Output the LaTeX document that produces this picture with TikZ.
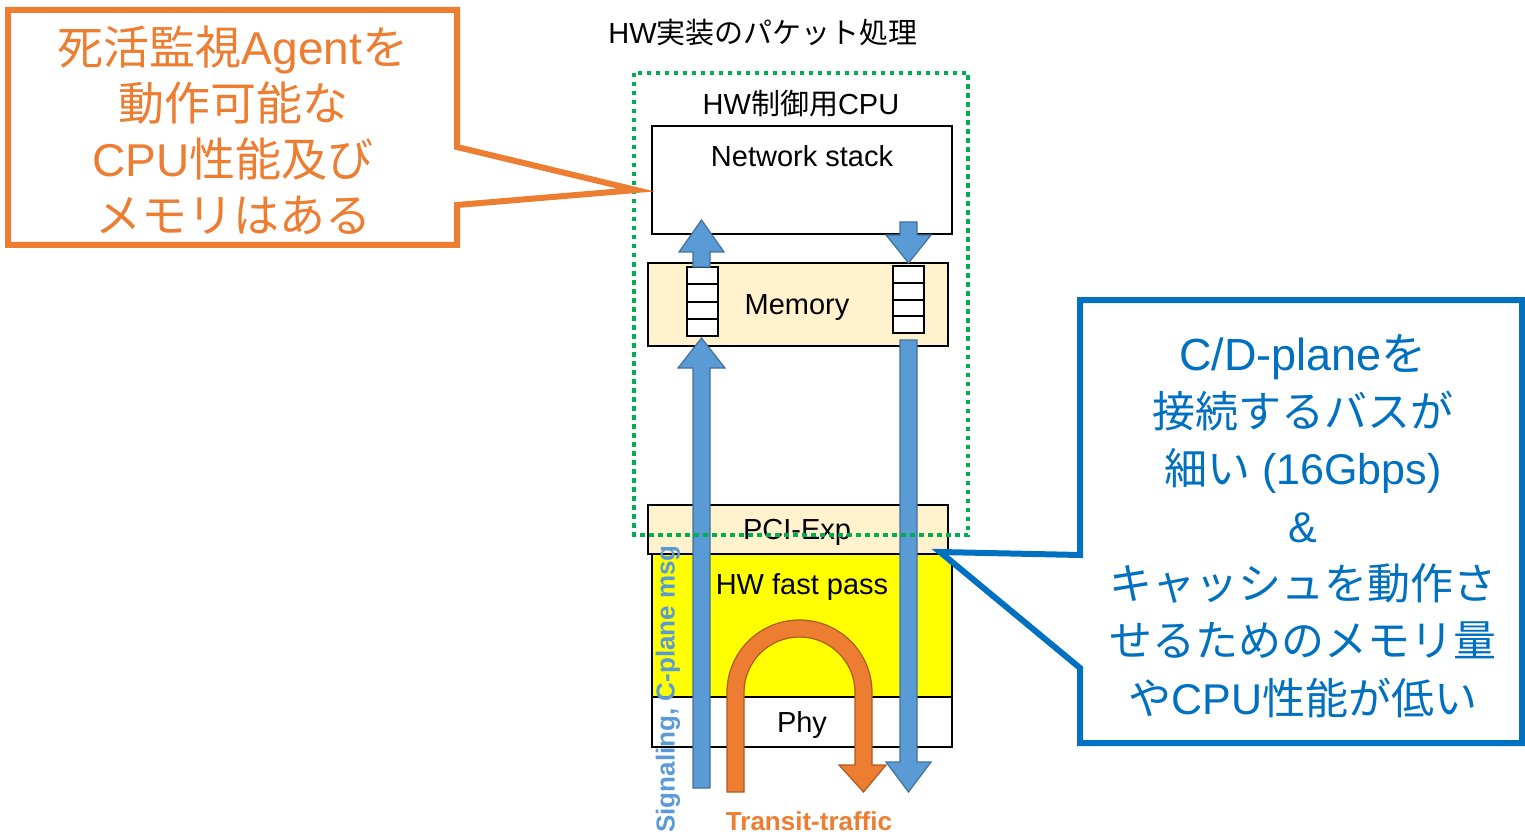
\documentclass[tikz,border=0pt]{standalone}
\usepackage{fontspec}
\setmainfont{Liberation Sans}
\newfontfamily\cjk{Noto Sans CJK JP}
\newcommand\jp[1]{{\cjk #1}}
\definecolor{memfill}{HTML}{FFF2CC}
\definecolor{fastfill}{HTML}{FFFF00}
\definecolor{arrblue}{HTML}{5B9BD5}
\definecolor{arrblueedge}{HTML}{41719C}
\definecolor{arrorange}{HTML}{ED7D31}
\definecolor{arrorangeedge}{HTML}{AE5A21}
\definecolor{calloutblue}{HTML}{0070C0}
\definecolor{dotgreen}{HTML}{00B050}
\tikzset{
  layerbox/.style={draw=black, line width=2pt},
  lbl/.style={inner sep=0pt, font=\fontsize{29}{34}\selectfont},
  bluearrow/.style={fill=arrblue, draw=arrblueedge, line width=1.2pt, line join=miter},
  orangearrow/.style={fill=arrorange, draw=arrorangeedge, line width=1.2pt},
  callout/.style={fill=white, line width=6pt, line join=miter},
}
\begin{document}
\begin{tikzpicture}[x=1pt, y=-1pt]
\useasboundingbox (0,0) rectangle (1525,834);

% title
\node[lbl] (title) at (763,33) {HW\jp{実装のパケット処理}};

% stack of layers
\node[lbl] (cpu) at (801,104) {HW\jp{制御用}CPU};
\draw[layerbox, fill=white] (652,126) rectangle (952,234);
\node[lbl] (netstack) at (802,156) {Network stack};
\draw[layerbox, fill=memfill] (648,263) rectangle (948,346);
\node[lbl] (memory) at (797,308) {Memory};
\draw[layerbox, fill=memfill] (648,505) rectangle (948,554);
\node[lbl] (pci) at (797,532) {PCI-Exp};
\draw[layerbox, fill=fastfill] (652,554) rectangle (952,697);
\node[lbl] (fastpass) at (802,587) {HW fast pass};
\draw[layerbox, fill=white] (652,697) rectangle (952,747);
\node[lbl] (phy) at (802,725) {Phy};

% receive / transmit queues in memory
\foreach \y in {267,284.25,301.5,318.75}
  \draw[layerbox, fill=white] (687,\y) rectangle (718,\y+17.25);
\foreach \y in {266,282.75,299.5,316.25}
  \draw[layerbox, fill=white] (893,\y) rectangle (924,\y+16.75);

% upward path: queue -> network stack
\draw[bluearrow] (693,267) -- (693,252) -- (679,252) -- (701.5,220) -- (724,252) -- (710,252) -- (710,267) -- cycle;
% upward path: wire -> queue
\draw[bluearrow] (693,788) -- (693,368) -- (678,368) -- (701.5,338) -- (725,368) -- (710,368) -- (710,788) -- cycle;
% downward path: network stack -> queue
\draw[bluearrow] (900,222) -- (900,235) -- (886,235) -- (908.5,263) -- (931,235) -- (917,235) -- (917,222) -- cycle;
% downward path: queue -> wire
\draw[bluearrow] (900,340) -- (900,762) -- (886,762) -- (908.5,792) -- (931,762) -- (917,762) -- (917,340) -- cycle;

% transit traffic U-turn
\draw[orangearrow] (727,792) -- (727,692.5) arc[start angle=180, end angle=360, radius=72.5]
  -- (872,765) -- (886,765) -- (863.5,792) -- (839,765) -- (855,765) -- (855,692.5)
  arc[start angle=360, end angle=180, radius=55.5] -- (744,792) -- cycle;

% flow labels
\node[inner sep=0pt, rotate=90, text=arrblue, font=\fontsize{26}{30}\selectfont\bfseries] (sig) at (668,689) {Signaling, C-plane msg};
\node[inner sep=0pt, text=arrorange, font=\fontsize{26}{30}\selectfont\bfseries] (transit) at (809,821) {Transit-traffic};

% CPU domain boundary
\draw[dotgreen, line width=4.5pt, dash pattern=on 4.5pt off 4.5pt] (634,73) rectangle (968,535);

% callouts
\draw[callout, draw=arrorange] (8,10) -- (457,10) -- (457,147) -- (636,190) -- (457,205) -- (457,245) -- (8,245) -- cycle;
\node[inner sep=0pt, align=center, text=arrorange, font=\fontsize{46}{56}\selectfont] (note1) at (233,130)
  {\jp{死活監視}Agent\jp{を}\\\jp{動作可能な}\\CPU\jp{性能及び}\\\jp{メモリはある}};

\draw[callout, draw=calloutblue] (1080,300) -- (1522,300) -- (1522,743) -- (1080,743) -- (1080,668) -- (940,552) -- (1080,555) -- cycle;
\node[inner sep=0pt, align=center, text=calloutblue, font=\fontsize{43}{57.3}\selectfont] (note2) at (1303,526)
  {\fontsize{45}{57.3}\selectfont C/D-plane\jp{を}\\\jp{接続するバスが}\\\jp{細い} (16Gbps)\\\&\\\jp{キャッシュを動作さ}\\\jp{せるためのメモリ量}\\\jp{や}CPU\jp{性能が低い}};
\end{tikzpicture}
\end{document}
